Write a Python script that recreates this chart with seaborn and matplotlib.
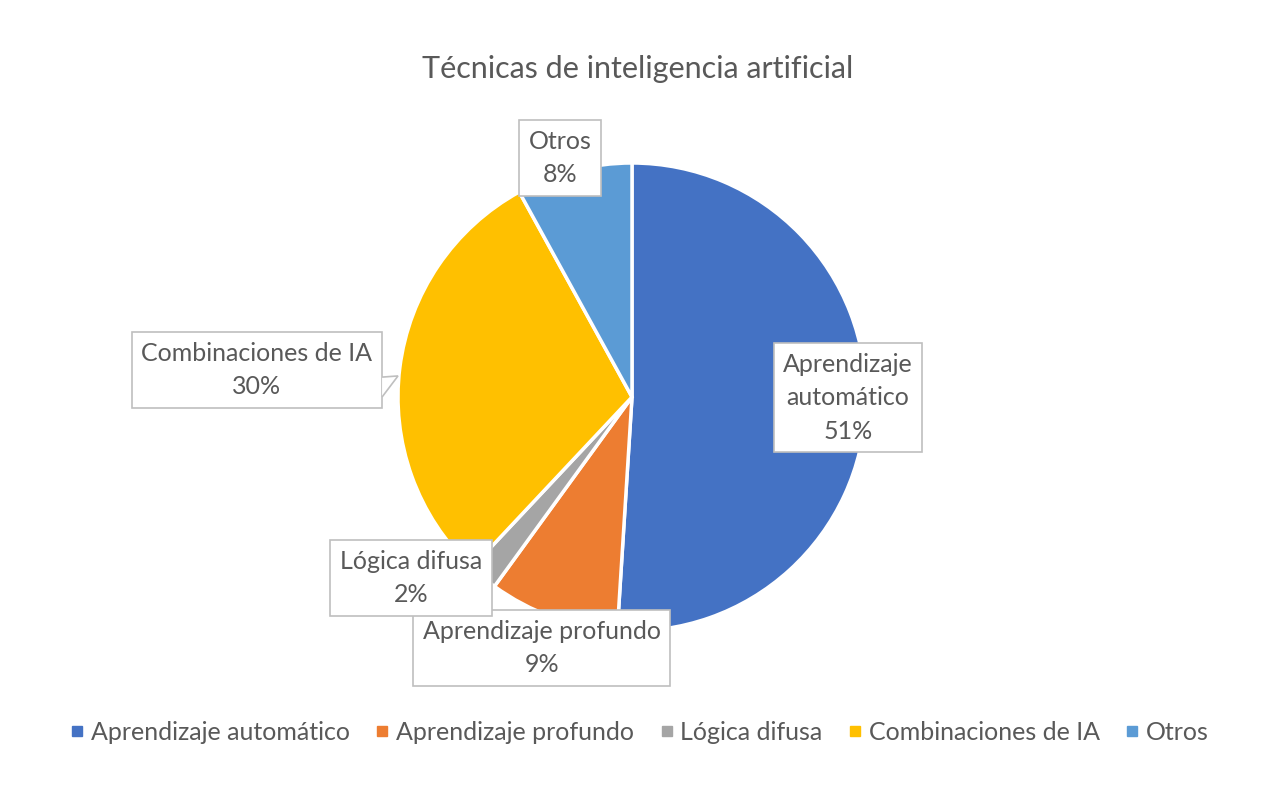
import numpy as np
import matplotlib
matplotlib.use("Agg")
import matplotlib.pyplot as plt
import seaborn as sns
from matplotlib.lines import Line2D
from matplotlib.patches import Polygon

categories = ["Aprendizaje automático", "Aprendizaje profundo", "Lógica difusa",
              "Combinaciones de IA", "Otros"]
values = [51, 9, 2, 30, 8]
box_texts = ["Aprendizaje\nautomático", "Aprendizaje profundo", "Lógica difusa",
             "Combinaciones de IA", "Otros"]
colors = ["#4472C4", "#ED7D31", "#A5A5A5", "#FFC000", "#5B9BD5"]

# label box centres, in pie radius units (layout only)
label_pos = [(0.923, -0.004), (-0.385, -1.073), (-0.944, -0.774),
             (-1.603, 0.115), (-0.308, 1.021)]

sns.set_theme(style="white")
plt.rcParams["font.family"] = ["Lato", "DejaVu Sans"]
text_color = "#595959"

fig = plt.figure(figsize=(12.75, 7.92), dpi=100)
ax = fig.add_axes([398 / 1275, 161 / 792, 468 / 1275, 468 / 792])

wedges, _ = ax.pie(values, colors=colors, startangle=90, counterclock=False,
                   radius=1, wedgeprops=dict(edgecolor="white", linewidth=2.5))
ax.set_xlim(-1, 1)
ax.set_ylim(-1, 1)
ax.set_aspect("equal")
ax.axis("off")

total = sum(values)
for i, (txt, v) in enumerate(zip(box_texts, values)):
    x, y = label_pos[i]
    ax.text(x, y, f"{txt}\n{round(100 * v / total)}%", ha="center", va="center",
            fontsize=18, color=text_color, linespacing=1.55, zorder=5,
            bbox=dict(boxstyle="square,pad=0.38", facecolor="white",
                      edgecolor="#BFBFBF", linewidth=1.2),
            clip_on=False)

# callout tail for the Combinaciones label
tail = Polygon([(-1.068, 0.085), (-1.0, 0.09), (-1.068, 0.0)], closed=False,
               facecolor="white", edgecolor="#BFBFBF", linewidth=1.2,
               zorder=6, clip_on=False)
ax.add_patch(tail)

fig.suptitle("Técnicas de inteligencia artificial", y=0.93, fontsize=22,
             color=text_color)

handles = [Line2D([0], [0], marker="s", linestyle="", markersize=7,
                  markerfacecolor=c, markeredgecolor=c) for c in colors]
fig.legend(handles, categories, loc="center", bbox_to_anchor=(0.5, 0.075),
           ncol=5, frameon=False, fontsize=18, labelcolor=text_color,
           handletextpad=0.1, columnspacing=0.85, handlelength=0.9)

fig.savefig("out.png", dpi=100, facecolor="white")
